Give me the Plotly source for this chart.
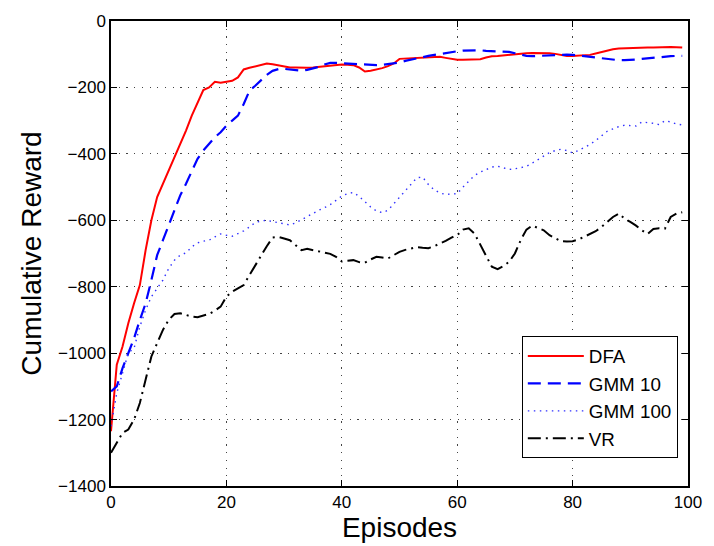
import plotly.graph_objects as go

episodes = list(range(100))

dfa = [-1235, -1035, -980, -910, -850, -795, -690, -600, -530, -490,
       -455, -415, -375, -330, -285, -245, -208, -200, -183, -186,
       -184, -180, -170, -146, -141, -136, -131, -128, -130, -133,
       -137, -140, -140, -141, -141, -140, -138, -136, -134, -133,
       -131, -132, -133, -140, -152, -150, -147, -142, -136, -128,
       -114, -113, -111, -110, -109, -108, -107, -108, -111, -115,
       -117, -117, -117, -117, -115, -110, -106, -105, -103, -102,
       -100, -98, -97, -96, -96, -96, -97, -99, -103, -105,
       -105, -104, -103, -102, -98, -93, -88, -85, -83, -82,
       -81, -80, -80, -80, -80, -79, -79, -78, -79, -80]

gmm10 = [-1115, -1100, -1045, -1000, -955, -900, -850, -780, -705, -660,
         -615, -570, -525, -490, -455, -415, -390, -370, -350, -335,
         -315, -300, -285, -250, -210, -195, -178, -162, -150, -145,
         -144, -146, -148, -150, -147, -143, -138, -131, -126, -126,
         -127, -127, -128, -130, -132, -133, -133, -132, -130, -128,
         -125, -120, -117, -113, -109, -105, -102, -98, -95, -92,
         -91, -89, -88, -87, -88, -90, -91, -91, -91, -93,
         -97, -101, -105, -106, -105, -104, -103, -102, -101, -101,
         -102, -104, -107, -109, -111, -113, -115, -117, -118, -118,
         -118, -116, -114, -112, -110, -108, -107, -106, -105, -105]

gmm100 = [-1220, -1120, -1060, -1000, -985, -920, -870, -830, -805, -780,
          -745, -720, -705, -698, -680, -668, -663, -660, -650, -641,
          -645, -648, -640, -632, -620, -607, -602, -600, -604, -608,
          -610, -614, -608, -598, -588, -578, -570, -562, -553, -540,
          -527, -520, -516, -528, -545, -560, -572, -577, -570, -550,
          -530, -510, -490, -472, -470, -492, -508, -518, -522, -521,
          -520, -500, -482, -465, -455, -447, -440, -437, -442, -447,
          -445, -442, -438, -428, -417, -405, -396, -390, -386, -390,
          -397, -390, -382, -372, -360, -345, -332, -325, -318, -314,
          -316, -316, -304, -305, -308, -312, -300, -304, -310, -313]

vr = [-1300, -1270, -1240, -1230, -1200, -1150, -1080, -1010, -970, -930,
      -900, -882, -880, -885, -890, -892, -888, -882, -872, -860,
      -830, -815, -805, -795, -765, -735, -705, -678, -652, -650,
      -655, -660, -675, -690, -686, -690, -695, -699, -701, -710,
      -724, -722, -720, -726, -728, -718, -710, -712, -715, -705,
      -695, -689, -686, -681, -683, -684, -678, -671, -662, -652,
      -645, -628, -624, -640, -675, -710, -740, -747, -738, -725,
      -700, -660, -628, -616, -622, -630, -645, -655, -663, -664,
      -663, -658, -650, -640, -633, -620, -606, -590, -580, -595,
      -605, -616, -630, -641, -626, -624, -625, -590, -580, -576]

x_ticks = [0, 20, 40, 60, 80, 100]
y_ticks = [0, -200, -400, -600, -800, -1000, -1200, -1400]

fig = go.Figure()
fig.add_trace(go.Scatter(x=episodes, y=dfa, mode="lines", name="DFA",
                         line=dict(color="#ff0000", width=2)))
fig.add_trace(go.Scatter(x=episodes, y=gmm10, mode="lines", name="GMM 10",
                         line=dict(color="#0000ff", width=2.2, dash="13px,7px")))
fig.add_trace(go.Scatter(x=episodes, y=gmm100, mode="lines", name="GMM 100",
                         line=dict(color="#3030ff", width=1.4, dash="1.5px,4.5px")))
fig.add_trace(go.Scatter(x=episodes, y=vr, mode="lines", name="VR",
                         line=dict(color="#000000", width=2, dash="13px,5px,2px,5px")))

axis_common = dict(
    showline=True, linecolor="black", linewidth=1.5, mirror="allticks",
    ticks="inside", ticklen=6, tickcolor="black", tickwidth=1,
    showgrid=True, gridcolor="#444444", gridwidth=1, griddash="1.2px,6.5px",
    zeroline=False, tickfont=dict(size=17, color="black"),
)

fig.update_xaxes(range=[0, 100], tickvals=x_ticks,
                 title=dict(text="Episodes", font=dict(size=28, color="black"), standoff=2),
                 **axis_common)
fig.update_yaxes(range=[-1400, 0], tickvals=y_ticks,
                 title=dict(text="Cumulative Reward", font=dict(size=28, color="black"), standoff=8),
                 **axis_common)

fig.update_layout(
    width=714, height=546,
    margin=dict(l=111, r=17, t=17, b=60),
    paper_bgcolor="white", plot_bgcolor="white",
    font=dict(family="Liberation Sans, Arial, sans-serif", color="black"),
    legend=dict(x=0.712, y=0.322, xanchor="left", yanchor="top",
                bgcolor="white", bordercolor="black", borderwidth=1,
                font=dict(size=18.8, color="black"), tracegroupgap=0,
                itemwidth=56),
    showlegend=True,
)

fig.write_html("out.html")
